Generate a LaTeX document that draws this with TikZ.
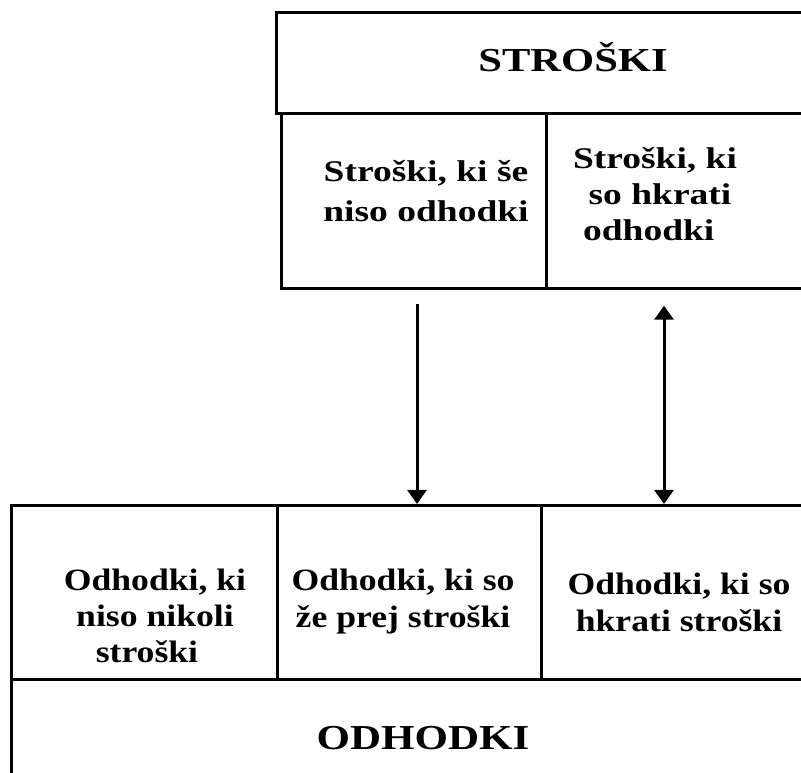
\documentclass[tikz,border=0pt]{standalone}
\usepackage{fontspec}
\setmainfont{Liberation Serif}
\usetikzlibrary{arrows.meta}

\tikzset{
  box/.style={draw, line width=2.7pt, inner sep=0pt, anchor=north west},
  title/.style={font=\bfseries\fontsize{33.5}{40}\selectfont, inner sep=0pt},
  toptext/.style={font=\bfseries\fontsize{30}{36}\selectfont, align=center, inner sep=0pt, xscale=1.25, transform shape},
  bottext/.style={font=\bfseries\fontsize{31}{36}\selectfont, align=center, inner sep=0pt, xscale=1.15, transform shape},
  link/.style={line width=3pt, -{Triangle[width=19pt,length=14pt]}},
  dlink/.style={line width=3pt, {Triangle[width=19pt,length=14pt]}-{Triangle[width=19pt,length=14pt]}}
}

\begin{document}
\begin{tikzpicture}[x=1pt, y=1pt]
\useasboundingbox (0,0) rectangle (801,773);
\clip (0,0) rectangle (801,773);

% upper block: costs
\node[box, minimum width=560pt, minimum height=101pt] (costs) at (275,762) {};
\node[box, minimum width=265pt, minimum height=175pt] (notyet) at (280,661) {};
\node[box, minimum width=290pt, minimum height=175pt] (alsoexp) at (545,661) {};

% lower block: expenses
\node[box, minimum width=266pt, minimum height=174pt] (never) at (10,269) {};
\node[box, minimum width=264pt, minimum height=174pt] (before) at (276,269) {};
\node[box, minimum width=290pt, minimum height=174pt] (alsocost) at (540,269) {};
\node[box, minimum width=830pt, minimum height=120pt] (expenses) at (10,95) {};

% labels
\node[title, xscale=1.27, transform shape] (tcosts) at (573,715.5) {STROŠKI};
\node[toptext, font=\bfseries\fontsize{30}{40}\selectfont] (tnotyet) at (426,582) {Stroški, ki še\\niso odhodki};
\node[toptext] (talsoexp) at (655,579) {Stroški, ki\\\hspace*{8pt}so hkrati\\odhodki\hspace*{10pt}};
\node[bottext] (tnever) at (155,157) {Odhodki, ki\\niso nikoli\\stroški\hspace*{14pt}};
\node[bottext, font=\bfseries\fontsize{31}{37}\selectfont] (tbefore) at (403,171) {Odhodki, ki so\\že prej stroški};
\node[bottext, font=\bfseries\fontsize{31}{37}\selectfont] (talsocost) at (679,171) {Odhodki, ki so\\hkrati stroški};
\node[title, font=\bfseries\fontsize{35}{40}\selectfont, xscale=1.23, transform shape] (texpenses) at (423,34.5) {ODHODKI};

% connectors
\draw[link] ([xshift=137pt, yshift=-14pt]notyet.south west) -- ([xshift=141pt]before.north west);
\draw[dlink] ([xshift=119pt, yshift=-16pt]alsoexp.south west) -- ([xshift=124pt]alsocost.north west);
\end{tikzpicture}
\end{document}
